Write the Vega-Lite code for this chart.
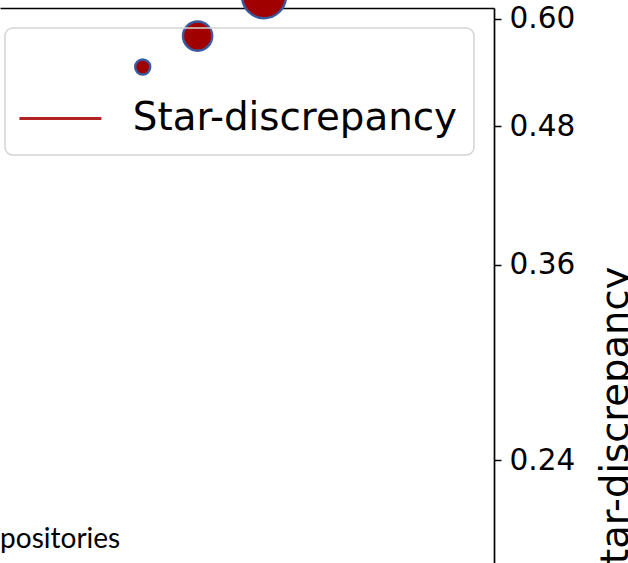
{
  "$schema": "https://vega.github.io/schema/vega-lite/v6.json",
  "width": 494,
  "height": 555,
  "autosize": {"type": "none"},
  "padding": {"left": 0, "top": 8, "right": 134, "bottom": 0},
  "background": "white",
  "config": {"view": {"stroke": null}},
  "datasets": {
    "points": [
      {"x": 2.6, "discrepancy": 0.543, "repos": 10, "series": "Star-discrepancy"},
      {"x": 3.6, "discrepancy": 0.579, "repos": 38, "series": "Star-discrepancy"},
      {"x": 4.81, "discrepancy": 0.629, "repos": 86, "series": "Star-discrepancy"}
    ],
    "notes": [
      {"x": 2.19, "discrepancy": 0.2, "label": "Repositories"}
    ]
  },
  "layer": [
    {
      "data": {"name": "points"},
      "mark": {"type": "point", "shape": "circle", "filled": true, "opacity": 1, "stroke": "#3a5a9e", "strokeWidth": 2.4, "strokeOpacity": 1, "fillOpacity": 1},
      "encoding": {
        "x": {"field": "x", "type": "quantitative", "scale": {"domain": [0, 9], "nice": false, "zero": false},
              "axis": {"orient": "top", "labels": false, "ticks": false, "grid": false, "title": null, "domain": true, "domainColor": "black", "domainWidth": 1.7}},
        "y": {"field": "discrepancy", "type": "quantitative",
              "scale": {"type": "log", "domain": [0.19387, 0.61377], "nice": false, "zero": false},
              "axis": {"orient": "right", "values": [0.24, 0.36, 0.48, 0.6], "format": ".2f", "grid": false,
                       "domainColor": "black", "domainWidth": 1.7, "tickColor": "black", "tickWidth": 1.5, "tickSize": 7,
                       "labelFont": "DejaVu Sans", "labelFontSize": 29.5, "labelColor": "black", "labelPadding": 8,
                       "title": "Star-discrepancy", "titleFont": "DejaVu Sans", "titleFontSize": 38.5, "titleFontWeight": "normal",
                       "titleColor": "black", "titleAngle": 270, "titleBaseline": "top", "titleAlign": "center", "titleY": 419, "titlePadding": 23}},
        "size": {"field": "repos", "type": "quantitative", "scale": {"domain": [0, 100], "range": [0, 2250], "zero": true}, "legend": null},
        "fill": {"field": "series", "type": "nominal", "scale": {"range": ["#a00000"]},
                 "legend": {"orient": "none", "legendX": 5, "legendY": 20, "title": " ", "titleFontSize": 30, "titlePadding": 25,
                            "padding": 16, "fillColor": "transparent", "strokeColor": "#d4d4d4", "cornerRadius": 8,
                            "symbolType": "M-4.2,0H12.2", "symbolSize": 100, "symbolStrokeWidth": 3, "symbolStrokeColor": "#b22222", "symbolOpacity": 1,
                            "labelFont": "DejaVu Sans", "labelFontSize": 38.8, "labelColor": "black", "labelOffset": 73, "labelLimit": 800,
                            "encode": {"legend": {"update": {"strokeWidth": {"value": 1.5}}},
                                       "symbols": {"update": {"stroke": {"value": "#b22222"}, "strokeWidth": {"value": 3}, "fill": {"value": "transparent"}}}}}}
      }
    },
    {
      "data": {"name": "notes"},
      "mark": {"type": "text", "align": "right", "baseline": "alphabetic", "font": "Lato", "fontSize": 28, "color": "black"},
      "encoding": {
        "x": {"field": "x", "type": "quantitative"},
        "y": {"field": "discrepancy", "type": "quantitative"},
        "text": {"field": "label"}
      }
    }
  ]
}
